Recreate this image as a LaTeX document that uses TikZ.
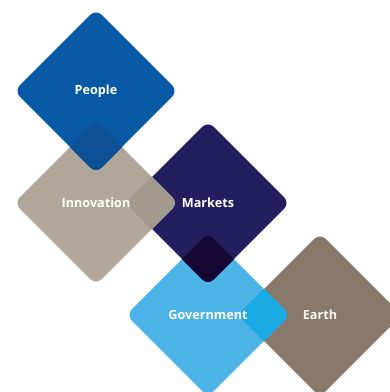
\documentclass[tikz,border=0pt]{standalone}
\usepackage{fontspec}
\setmainfont{Open Sans}
\usetikzlibrary{shapes.geometric}

\definecolor{peopleblue}{RGB}{8,88,166}
\definecolor{innotaupe}{RGB}{176,166,153}
\definecolor{marketnavy}{RGB}{34,30,96}
\definecolor{govblue}{RGB}{76,180,230}
\definecolor{earthbrown}{RGB}{136,121,106}
\definecolor{peopleinno}{RGB}{14,80,150}
\definecolor{innomarket}{RGB}{164,155,143}
\definecolor{marketgov}{RGB}{22,6,52}
\definecolor{govearth}{RGB}{26,170,228}

\begin{document}
\begin{tikzpicture}

        % Styles
        \tikzstyle{tile}=[diamond,aspect=1,inner sep=0pt,rounded corners=0.16cm,minimum width=3.28cm,minimum height=3.28cm]
        \tikzstyle{tag}=[text=white,font=\bfseries\fontsize{7.2}{8}\selectfont]
        %The graphic
        \clip (0,0) rectangle (7.8,7.84);
        %tiles
        \node[tile,fill=peopleblue] (people) at (1.92,6.02) {};
        \node[tile,fill=innotaupe] (innovation) at (1.92,3.78) {};
        \node[tile,fill=marketnavy] (markets) at (4.16,3.78) {};
        \node[tile,fill=govblue] (government) at (4.16,1.54) {};
        \node[tile,fill=earthbrown] (earth) at (6.40,1.54) {};
        %overlaps
        \foreach \a/\b/\shade in {people/innovation/peopleinno,innovation/markets/innomarket,
                markets/government/marketgov,government/earth/govearth}
        {
            \begin{scope}[rounded corners=0.16cm]
                \clip (\a.north) -- (\a.east) -- (\a.south) -- (\a.west) -- cycle;
                \fill[\shade] (\b.north) -- (\b.east) -- (\b.south) -- (\b.west) -- cycle;
            \end{scope}
        }
        %labels
        \node[tag] (people text) at (people) {People};
        \node[tag] (innovation text) at (innovation) {Innovation};
        \node[tag] (markets text) at (markets) {Markets};
        \node[tag] (government text) at (government) {Government};
        \node[tag,text=white!94!earthbrown] (earth text) at (earth) {Earth};
\end{tikzpicture}
\end{document}
